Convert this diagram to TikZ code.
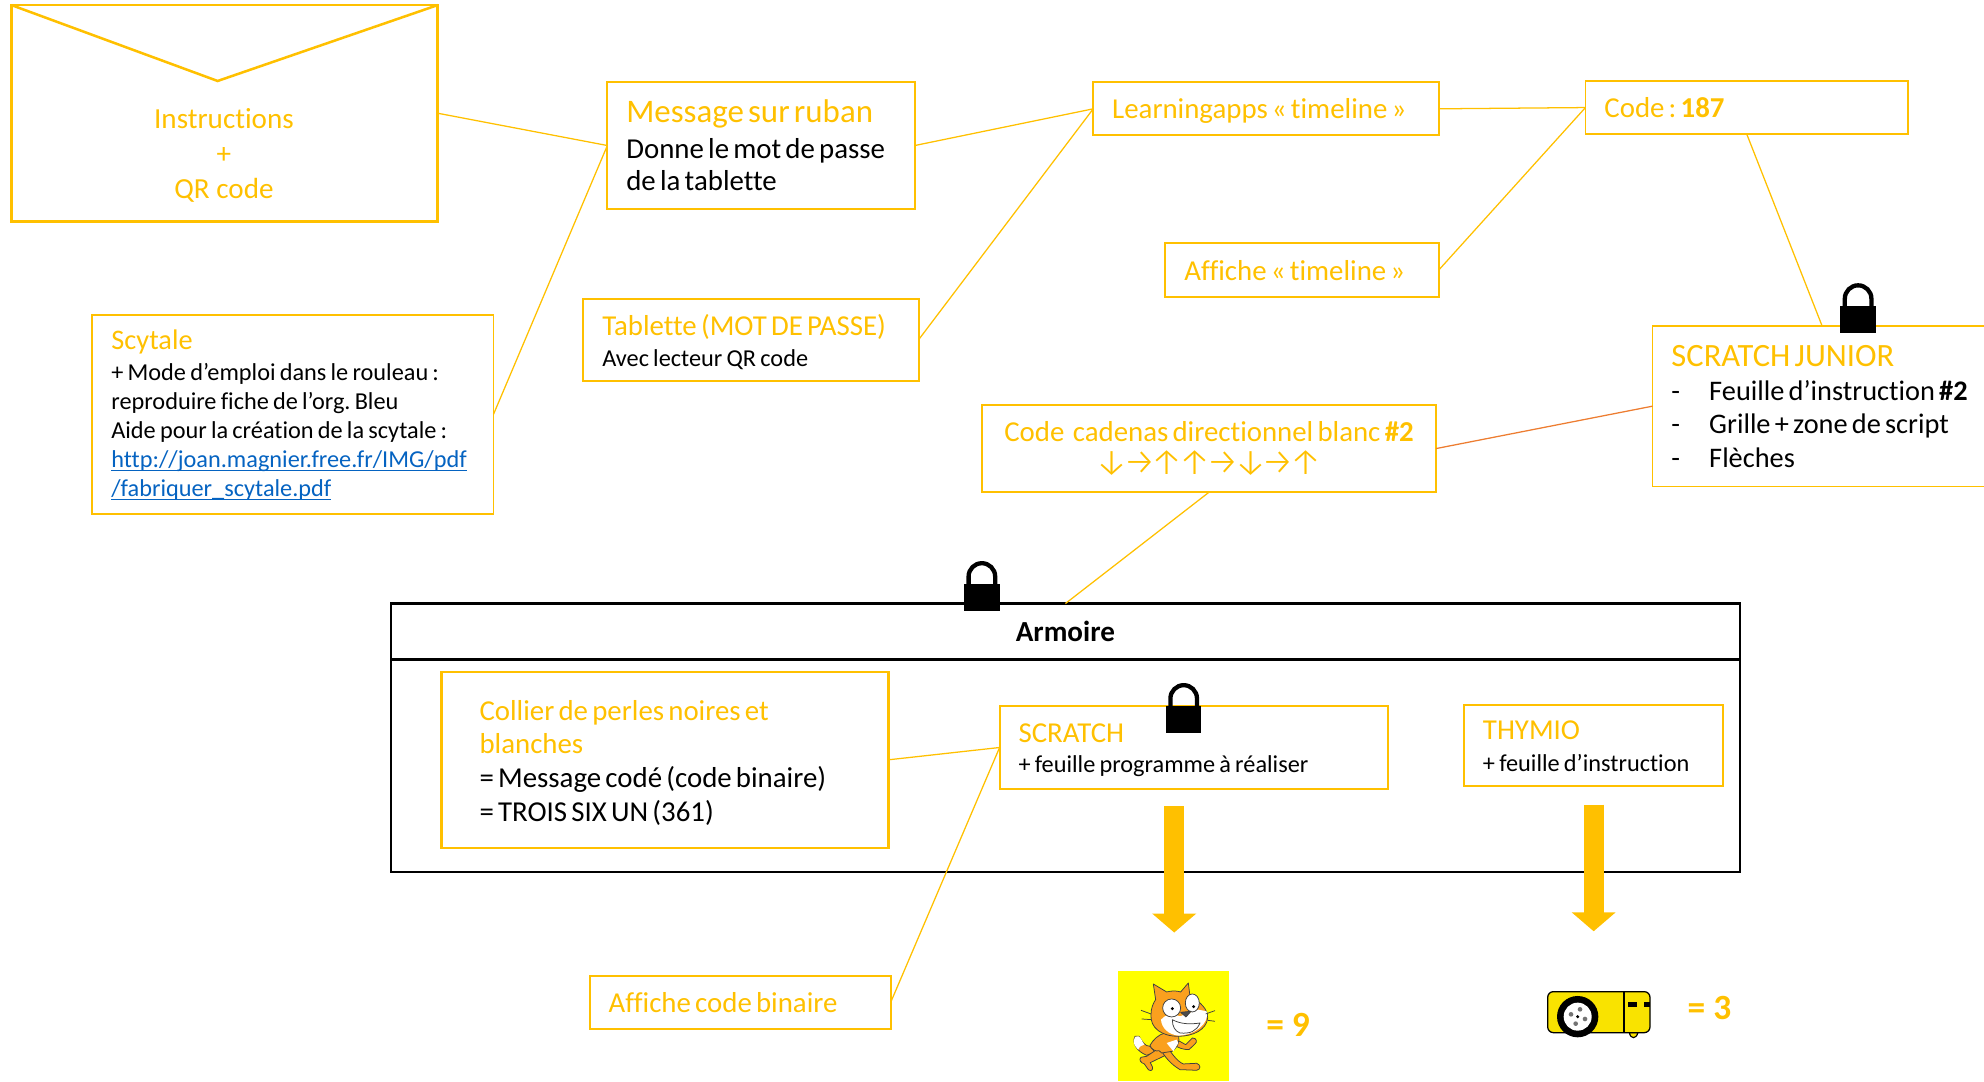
\documentclass[tikz,border=0pt]{standalone}
\usepackage{fontspec}
\setmainfont{Carlito}[Ligatures=CommonOff]
\newfontfamily\arrfont{Fira Sans Light}
\frenchspacing
\usetikzlibrary{arrows.meta,calc}
\definecolor{Y}{HTML}{FFC000}
\definecolor{Or}{HTML}{ED7D31}
\definecolor{Lk}{HTML}{0563C1}
\definecolor{CatO}{HTML}{FAA01E}
\definecolor{ThY}{HTML}{F9E300}
\definecolor{PureY}{HTML}{FFFF00}
\newcommand{\fs}[2]{\fontsize{#1}{#2}\selectfont}
\newcommand{\txtdown}[1]{\par\kern-#1\relax}
\newcommand{\kk}{\kern-4.2pt}
\newsavebox{\ulnbox}
\newcommand{\uln}[1]{\leavevmode\sbox{\ulnbox}{#1}\rlap{\usebox{\ulnbox}}\rule[-2.6pt]{\wd\ulnbox}{0.9pt}}
\tikzset{
  x=1pt,y=-1pt,
  ybox/.style={draw=Y,line width=1.5pt,rectangle,anchor=north west,inner sep=0pt,outer sep=0pt,align=left,text=black},
  kbox/.style={draw=black,line width=2pt,rectangle,anchor=north west,inner sep=0pt,outer sep=0pt},
  link/.style={draw=Y,line width=1pt},
  linko/.style={draw=Or,line width=1pt},
  label/.style={inner sep=0pt,text=Y,align=center},
  blockarrow/.style={draw=Y,line width=16pt,-{Triangle[length=15pt,width=34pt]}},
  lockpic/.pic={
    \fill[black] (-14,-21) rectangle (14,0);
    \draw[black,line width=3.4pt] (-10.5,-20) -- (-10.5,-27) arc[start angle=180,end angle=360,x radius=10.5,y radius=10.5] -- (10.5,-20);
  }
}
\begin{document}
\begin{tikzpicture}
\useasboundingbox (0,0) rectangle (1568,854.35);
% envelope
\node[ybox,line width=2.2pt,minimum width=337pt,minimum height=171pt] (env) at (9,4) {};
\draw[Y,line width=2pt] (env.north west) -- (172,64) -- (env.north east);
\node[label,font=\fs{23}{27.5}] (envl) at (177,122.8) {Instructions\\+\\QR code};
% boxes
\node[ybox,minimum width=243pt,minimum height=100pt,text width=213pt,inner xsep=15pt] (msg) at (480,65)
 {\fs{26}{29}\textcolor{Y}{Message sur ruban}\\\fs{22.8}{28}Donne le mot de passe\\\fs{22.8}{26}de la tablette\par};
\node[ybox,minimum width=273pt,minimum height=42pt,text width=243pt,inner xsep=15pt] (learn) at (864,65)
 {\fs{22.8}{25}\textcolor{Y}{Learningapps « timeline »}\txtdown{4pt}};
\node[ybox,minimum width=255pt,minimum height=42pt,text width=225pt,inner xsep=15pt] (code) at (1253,64)
 {\fs{22.8}{25}\textcolor{Y}{Code : \textbf{187}}\par};
\node[ybox,minimum width=216pt,minimum height=43pt,text width=186pt,inner xsep=15pt] (afft) at (921,192)
 {\fs{22.8}{25}\textcolor{Y}{Affiche « timeline »}\par};
\node[ybox,minimum width=265pt,minimum height=65pt,text width=235pt,inner xsep=15pt] (tab) at (461,236)
 {\fs{22.8}{25}\textcolor{Y}{Tablette (MOT DE PASSE)}\\\fs{19.2}{24.5}Avec lecteur QR code\txtdown{3pt}};
\node[ybox,minimum width=317pt,minimum height=157pt,text width=287pt,inner xsep=15pt] (scy) at (73,249)
 {\fs{22.4}{25}\textcolor{Y}{Scytale}\\\fs{19.2}{24.5}+ Mode d’emploi dans le rouleau :\\\fs{19.2}{23}reproduire fiche de l’org. Bleu\\Aide pour la création de la scytale :\\\textcolor{Lk}{\uln{http://joan.magnier.free.fr/IMG/pdf}}\\\textcolor{Lk}{\uln{/fabriquer\_scytale.pdf}}\txtdown{1.5pt}};
\node[ybox,minimum width=300pt,minimum height=127pt,text width=270pt,inner xsep=15pt] (sj) at (1306,257.5)
 {\fs{25.7}{28}\textcolor{Y}{SCRATCH JUNIOR}\\\fs{22.4}{27}-\hspace{23pt}Feuille d’instruction \textbf{\#2}\\\fs{22.4}{26.5}-\hspace{23pt}Grille + zone de script\\-\hspace{23pt}Flèches\par};
\node[ybox,align=center,minimum width=359pt,minimum height=69pt,text width=340pt,inner xsep=9.5pt] (cad) at (776,320)
 {\fs{22.8}{26}\textcolor{Y}{Code\ \ cadenas directionnel blanc \textbf{\#2}}\\\textcolor{Y}{\arrfont\fontsize{29}{26}\selectfont ↓\kk→\kk↑\kk↑\kk→\kk↓\kk→\kk↑}\par};
% armoire
\node[kbox,minimum width=1066pt,minimum height=212pt] (arm) at (309,477) {};
\node[kbox,minimum width=1066pt,minimum height=44pt,font=\fs{23}{25}\bfseries] (armh) at (309,477) {Armoire};
\node[ybox,line width=2pt,minimum width=353pt,minimum height=139pt,text width=293pt,inner xsep=30pt] (col) at (349,531)
 {\fs{22.8}{26.7}\textcolor{Y}{Collier de perles noires et}\\\textcolor{Y}{blanches}\\= Message codé (code binaire)\\= TROIS SIX UN (361)\txtdown{4.5pt}};
\node[ybox,minimum width=307pt,minimum height=65.5pt,text width=277pt,inner xsep=15pt] (scr) at (790,558)
 {\fs{22.8}{25}\textcolor{Y}{SCRATCH}\\\fs{19.2}{23.5}+ feuille programme à réaliser\txtdown{4pt}};
\node[ybox,minimum width=205pt,minimum height=64.5pt,text width=175pt,inner xsep=15pt] (thy) at (1157,557)
 {\fs{22.8}{25}\textcolor{Y}{THYMIO}\\\fs{19.2}{25}+ feuille d’instruction\txtdown{1pt}};
\node[ybox,minimum width=238pt,minimum height=42pt,text width=208pt,inner xsep=15pt] (affb) at (466,771)
 {\fs{22.8}{25}\textcolor{Y}{Affiche code binaire}\par};
% connectors
\draw[link] (env.east) -- (msg.west);
\draw[link] (scy.east) -- (msg.west);
\draw[link] (msg.east) -- (learn.west);
\draw[link] (tab.east) -- (learn.west);
\draw[link] (learn.east) -- (code.west);
\draw[link] (afft.east) -- (code.west);
\draw[link] (code.south) -- ($(sj.north west)+(134,0)$);
\draw[linko] (cad.east) -- (sj.west);
\draw[link] (cad.south) -- (armh.north);
\draw[link] (col.east) -- (scr.west);
\draw[link] (affb.east) -- (scr.west);
% block arrows
\coordinate (a1s) at (928,637);
\coordinate (a1e) at (928,737);
\coordinate (a2s) at (1259.5,636);
\coordinate (a2e) at (1259.5,736);
\draw[blockarrow] (a1s) -- (a1e);
\draw[blockarrow] (a2s) -- (a2e);
% locks
\pic at (1468.5,263) {lockpic};
\pic at (776,482.6) {lockpic};
\pic at (935.5,579) {lockpic};
% scratch cat
\begin{scope}[shift={(881.2,765)},x=0.2634pt,y=-0.2634pt,line width=0.6pt]
\fill[PureY] (10,10) rectangle (343,340);
\begin{scope}[draw=black!75,fill=CatO,line join=round]
% tail
\filldraw (60,205) .. controls (50,225) and (65,250) .. (95,262) -- (120,252) -- (105,235) .. controls (90,235) and (82,222) .. (72,205) -- cycle;
\fill[white] (60,207) .. controls (52,222) and (58,235) .. (70,245) .. controls (72,235) and (82,232) .. (88,230) .. controls (82,222) and (78,208) .. (70,205) -- cycle;
% rear leg
\filldraw (140,235) -- (95,265) -- (78,268) .. controls (70,275) and (78,285) .. (88,288) -- (100,305) .. controls (108,312) and (116,305) .. (112,296) -- (106,284) -- (160,258) -- cycle;
% front leg
\filldraw (150,225) .. controls (165,250) and (185,280) .. (205,288) -- (245,286) .. controls (258,290) and (258,305) .. (245,307) -- (195,305) .. controls (170,290) and (150,270) .. (135,240) -- cycle;
% arm right
\filldraw (185,215) -- (212,230) -- (232,210) .. controls (245,210) and (248,222) .. (240,228) -- (222,245) .. controls (205,245) and (190,240) .. (180,232) -- cycle;
% arm left + body
\filldraw (150,195) .. controls (130,200) and (115,215) .. (105,232) .. controls (108,245) and (125,252) .. (132,248) -- (140,255) -- (172,250) .. controls (190,235) and (195,220) .. (190,200) -- cycle;
\fill[white] (155,225) -- (185,215) -- (190,225) -- (175,250) -- cycle;
% head
\filldraw (115,48) -- (155,72) .. controls (170,68) and (185,68) .. (197,72) -- (220,45) -- (225,85) .. controls (255,100) and (280,125) .. (278,150) .. controls (275,185) and (235,205) .. (190,205) .. controls (140,205) and (105,180) .. (108,140) .. controls (108,120) and (115,105) .. (122,95) -- cycle;
\fill[white] (138,155) .. controls (150,140) and (170,135) .. (195,145) -- (250,125) -- (275,130) .. controls (285,165) and (240,202) .. (190,203) .. controls (160,200) and (140,180) .. (138,155) -- cycle;
\filldraw[fill=white] (170,120) ellipse[x radius=27,y radius=27];
\filldraw[fill=white] (232,105) ellipse[x radius=21,y radius=27];
\fill[black] (172,122) circle[radius=5];
\fill[black] (236,116) circle[radius=5];
\filldraw[fill=black!70] (197,133) -- (228,130) -- (213,147) -- cycle;
\filldraw[fill=white] (172,155) .. controls (195,168) and (225,170) .. (255,165) .. controls (245,190) and (225,198) .. (195,195) .. controls (180,190) and (172,175) .. (172,155) -- cycle;
\draw (78,127) -- (108,138) (80,153) -- (108,155) (272,138) -- (300,128) (278,157) -- (300,160);
\end{scope}
\end{scope}
\node[label,font=\fs{28}{30}\bfseries] (nine) at (1018,810) {= 9};
% thymio
\begin{scope}[shift={(1217.1,774.5)},x=0.2634pt,y=-0.2634pt]
\filldraw[fill=ThY,draw=black,line width=0.9pt] (268,158) .. controls (272,178) and (288,178) .. (294,158) -- cycle;
\filldraw[fill=ThY,draw=black,line width=1pt,rounded corners=4.5pt] (23,35) rectangle (330,158);
\draw[black,line width=0.9pt] (252,35) -- (252,158);
\fill[black] (265,65) rectangle (292,80);
\fill[black] (312,65) rectangle (330,80);
\fill[black] (113,110) circle[radius=62];
\fill[white] (113,110) circle[radius=42];
\fill[black!55] (120,88) circle[radius=7] (93,103) circle[radius=7] (135,117) circle[radius=7] (107,131) circle[radius=7];
\fill[black] (113,110) circle[radius=5];
\end{scope}
\node[label,font=\fs{28}{30}\bfseries] (three) at (1351,797) {= 3};
\end{tikzpicture}
\end{document}
